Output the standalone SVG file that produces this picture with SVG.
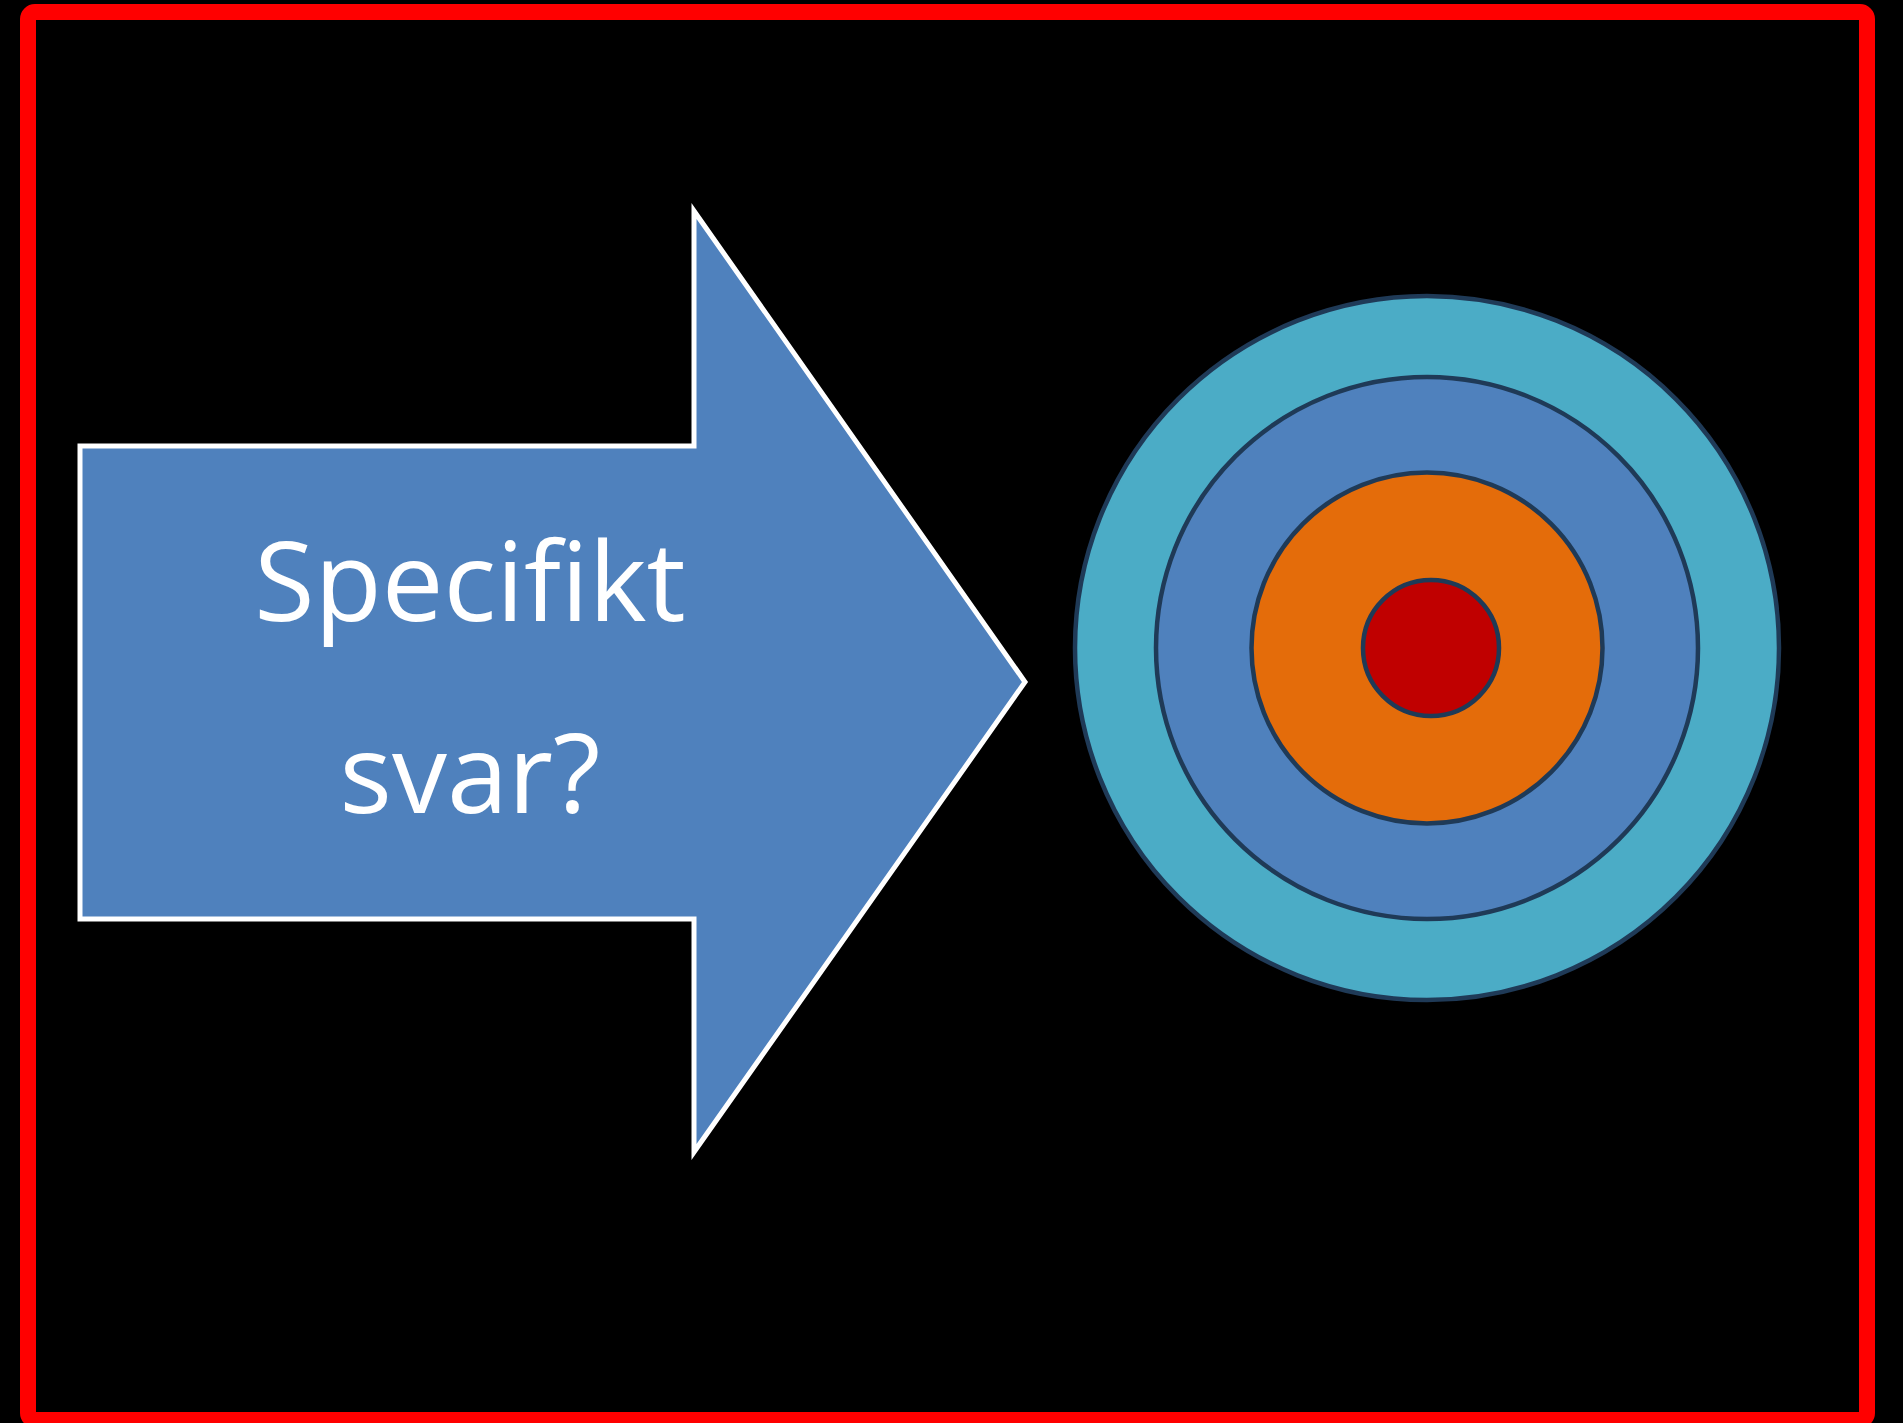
<svg xmlns="http://www.w3.org/2000/svg" width="1903" height="1423" viewBox="0 0 1903 1423">
  <style>
    .ring { stroke: #1F3A57; stroke-width: 4.5; }
    .lbl { font-family: "Open Sans", "Noto Sans", "Liberation Sans", sans-serif; font-size: 110px; fill: #FFFFFF; text-anchor: middle; }
  </style>
  <rect x="0" y="0" width="1903" height="1423" fill="#000000"/>
  <g id="frame">
    <rect x="28" y="12" width="1839" height="1408" rx="7" ry="7" fill="none" stroke="#FF0000" stroke-width="16"/>
  </g>
  <g id="arrow">
    <polygon points="80,446 694,446 694,211 1025,682 694,1152 694,919 80,919" fill="#4F81BD" stroke="#FFFFFF" stroke-width="5" stroke-miterlimit="20"/>
    <text class="lbl" x="470" y="621">Specifikt</text>
    <text class="lbl" x="470" y="813">svar?</text>
  </g>
  <g id="target">
    <circle class="ring" cx="1427" cy="648" r="352" fill="#4BACC6"/>
    <circle class="ring" cx="1427" cy="648" r="271" fill="#4F81BD"/>
    <circle class="ring" cx="1427" cy="648" r="175.5" fill="#E46C0A"/>
    <circle class="ring" cx="1431" cy="648" r="68" fill="#C00000"/>
  </g>
  <g id="connectors"></g>
</svg>
